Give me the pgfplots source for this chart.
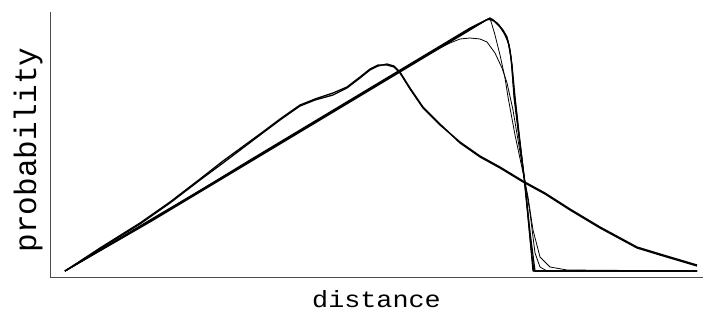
\documentclass[border=0pt]{standalone}
\usepackage{fontspec}
\setmainfont{Liberation Mono}
\usepackage{pgfplots}
\pgfplotsset{compat=1.18}
\begin{document}
\begin{tikzpicture}
\begin{axis}[
  width=653pt, height=265pt, scale only axis,
  xmin=50, xmax=703, ymin=0, ymax=265,
  axis x line=bottom, axis y line=left,
  axis line style={-, black!70, line width=0.9pt},
  xtick=\empty, ytick=\empty,
  xlabel={distance}, ylabel={probability},
  xlabel style={font=\fontsize{26}{26}\selectfont, at={(axis description cs:0.5,0)}, anchor=base, yshift=-30pt, yscale=0.9, xscale=1.03},
  ylabel style={font=\fontsize{31}{31}\selectfont, at={(axis description cs:-0.0214,0.479)}, anchor=base},
  clip=false,
]
\coordinate (bl) at (rel axis cs:0,0);
\coordinate (tr) at (rel axis cs:1,1);
% curve A (wide peak), two overlapping runs
\addplot[black, line width=1.3pt, line join=round] coordinates {
(65,6) (100,28) (140,53) (170,74) (200,97) (223,114) (260,142) (280,157) (300,171) (315,177) (333,182) (347,189) (360,199) (370,207) (378,211) (387,213) (394,211) (400,205) (410,189) (423,170) (440,153) (460,134) (480,120) (500,109) (523,95) (545,83) (570,67) (600,49) (637,29) (660,22) (697,11)};
\addplot[black, line width=1.3pt, line join=round] coordinates {
(65,6) (100,29) (140,54) (170,75) (200,98) (223,116) (260,143) (280,158) (300,172) (315,178) (333,184) (347,190) (360,200) (370,208) (378,212) (387,212) (394,210) (400,204) (410,188) (423,169) (440,152) (460,135) (480,121) (500,110) (523,96) (545,84) (570,68) (600,50) (637,30) (660,23) (697,12)};
% curve group B (straight rise, steep fall)
\addplot[black, line width=1.2pt, line join=round] coordinates {
(65,6) (150,57) (250,116) (350,176) (420,218) (470,248) (490,259) (497,254) (503,247) (507,240) (510,227) (512,210) (514,180) (519,140) (525,94) (529,50) (533,6) (697,6)};
\addplot[black, line width=1.2pt, line join=round] coordinates {
(65,6) (150,55) (250,115) (350,175) (420,217) (470,247) (488,258) (494,256) (500,250) (505,243) (509,232) (512,212) (515,180) (520,135) (525,92) (530,45) (535,6) (697,6)};
\addplot[black, line width=1.2pt, line join=round] coordinates {
(65,6) (150,56) (250,117) (350,177) (420,219) (470,249) (486,257) (492,258) (499,252) (504,244) (508,236) (511,220) (513,195) (518,150) (524,100) (528,60) (532,20) (534,6) (697,6)};
% curve D (middle)
\addplot[black, line width=0.8pt, line join=round] coordinates {
(65,6) (150,56) (250,116) (350,176) (420,218) (470,248) (490,259) (495,242) (500,222) (505,199) (508,180) (515,142) (525,95) (530,64) (535,24) (540,10) (547,6) (697,6)};
% curve C (lower plateau)
\addplot[black, line width=0.8pt, line join=round] coordinates {
(65,6) (150,56) (250,116) (350,176) (420,218) (440,229) (450,234) (460,238) (470,239) (480,238) (487,235) (495,224) (502,209) (507,194) (513,167) (518,137) (525,95) (528,80) (533,47) (540,20) (550,10) (567,7) (697,6)};
\end{axis}
\pgfresetboundingbox
\path ([xshift=-50pt,yshift=-34pt]bl) rectangle ([yshift=12pt]tr);
\end{tikzpicture}
\end{document}
